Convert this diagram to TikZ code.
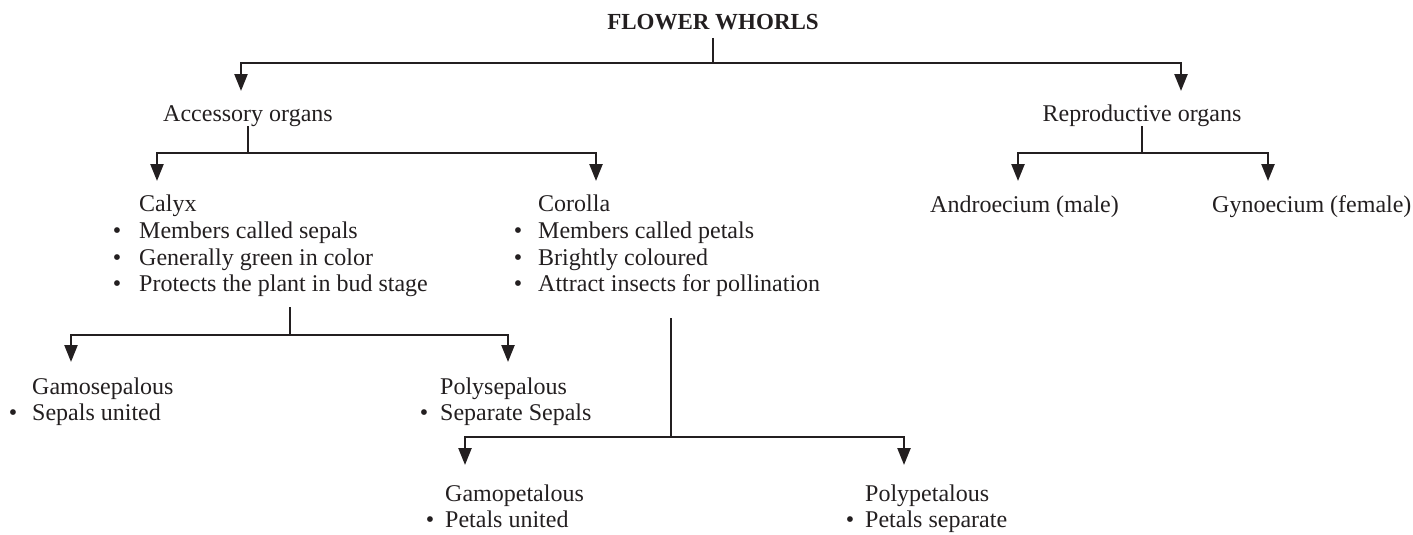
\documentclass[tikz,border=0pt]{standalone}
\usepackage{fontspec}
\setmainfont{Liberation Serif}
\usetikzlibrary{arrows.meta}
\definecolor{ink}{HTML}{231F20}
\begin{document}
\begin{tikzpicture}[x=1pt,y=-1pt,
  txt/.style={inner sep=0pt,text=ink,font=\fontsize{24}{28}\selectfont},
  lbl/.style={txt,anchor=base west},
  ctr/.style={txt,anchor=base},
  dot/.style={txt,anchor=base},
  link/.style={draw=ink,line width=2.4pt},
  arr/.style={link,-{Triangle[length=17pt,width=13pt]}}]
\useasboundingbox (0,0) rectangle (1413,535);

% top level
\node[ctr,font=\fontsize{23}{27}\selectfont\bfseries] (title) at (713,30) {FLOWER WHORLS};
\node[ctr] (acc) at (248,121) {Accessory organs};
\node[ctr] (rep) at (1142,121) {Reproductive organs};

% calyx block
\node[lbl] (calyx) at (139,211) {Calyx};
\node[dot] (cb1) at (117,238) {\textbullet};
\node[lbl] (c1) at (139,238) {Members called sepals};
\node[dot] (cb2) at (117,265) {\textbullet};
\node[lbl] (c2) at (139,265) {Generally green in color};
\node[dot] (cb3) at (117,291) {\textbullet};
\node[lbl] (c3) at (139,291) {Protects the plant in bud stage};

% corolla block
\node[lbl] (corolla) at (538,211) {Corolla};
\node[dot] (ob1) at (518,238) {\textbullet};
\node[lbl] (o1) at (538,238) {Members called petals};
\node[dot] (ob2) at (518,265) {\textbullet};
\node[lbl] (o2) at (538,265) {Brightly coloured};
\node[dot] (ob3) at (518,291) {\textbullet};
\node[lbl] (o3) at (538,291) {Attract insects for pollination};

% reproductive organs
\node[lbl] (andr) at (930,212) {Androecium (male)};
\node[lbl] (gyn) at (1212,212) {Gynoecium (female)};

% calyx types
\node[lbl] (gamos) at (32,394) {Gamosepalous};
\node[dot] (gsb) at (13,420) {\textbullet};
\node[lbl] (gs1) at (32,420) {Sepals united};
\node[lbl] (polys) at (440,394) {Polysepalous};
\node[dot] (psb) at (424,420) {\textbullet};
\node[lbl] (ps1) at (440,420) {Separate Sepals};

% corolla types
\node[lbl] (gamop) at (445,501) {Gamopetalous};
\node[dot] (gpb) at (430,527) {\textbullet};
\node[lbl] (gp1) at (445,527) {Petals united};
\node[lbl] (polyp) at (865,501) {Polypetalous};
\node[dot] (ppb) at (850,527) {\textbullet};
\node[lbl] (pp1) at (865,527) {Petals separate};

% fork points and arrow ends
\coordinate (t0) at (713,38);   \coordinate (t1) at (713,63);
\coordinate (accIn) at (241,91); \coordinate (repIn) at (1181,91);
\coordinate (a0) at (248,126);  \coordinate (a1) at (248,153);
\coordinate (calIn) at (157,181); \coordinate (corIn) at (596,181);
\coordinate (r0) at (1142,126); \coordinate (r1) at (1142,153);
\coordinate (andIn) at (1018,181); \coordinate (gynIn) at (1268,181);
\coordinate (c0) at (290,307);  \coordinate (c1j) at (290,335);
\coordinate (gsIn) at (71,362); \coordinate (psIn) at (508,362);
\coordinate (o0) at (671,318);  \coordinate (o1j) at (671,437);
\coordinate (gpIn) at (465,465); \coordinate (ppIn) at (904,465);

% connectors
\draw[link] (t0) -- (t1);
\draw[arr] (t1) -| (accIn);
\draw[arr] (t1) -| (repIn);
\draw[link] (a0) -- (a1);
\draw[arr] (a1) -| (calIn);
\draw[arr] (a1) -| (corIn);
\draw[link] (r0) -- (r1);
\draw[arr] (r1) -| (andIn);
\draw[arr] (r1) -| (gynIn);
\draw[link] (c0) -- (c1j);
\draw[arr] (c1j) -| (gsIn);
\draw[arr] (c1j) -| (psIn);
\draw[link] (o0) -- (o1j);
\draw[arr] (o1j) -| (gpIn);
\draw[arr] (o1j) -| (ppIn);
\end{tikzpicture}
\end{document}
